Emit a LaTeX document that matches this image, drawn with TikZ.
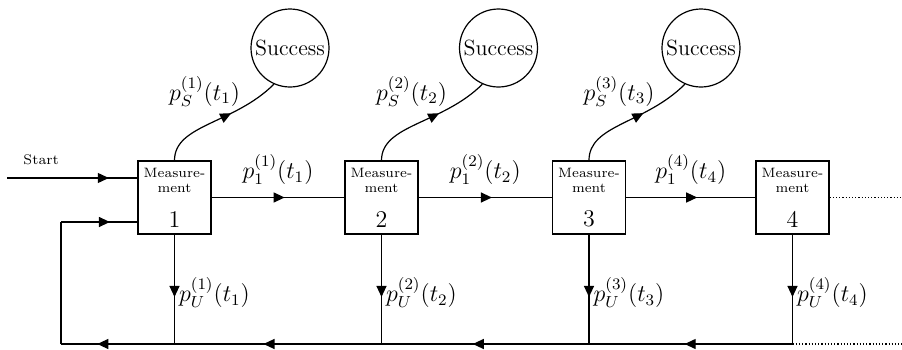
\documentclass[tikz,border=0pt]{standalone}
\usepackage{amsmath}
\usepackage{tikz}
\usetikzlibrary{arrows.meta, positioning, calc, decorations.markings}

\begin{document}
\begin{tikzpicture}[x=0.5pt, y=-0.5pt, line width=0.6pt,
  measbox/.style={draw, minimum width=36.5pt, minimum height=36.5pt, inner sep=0pt},
  succ/.style={draw, circle, minimum size=39pt, inner sep=0pt, font=\fontsize{11}{13}\selectfont},
  boxtxt/.style={inner sep=0pt, align=center, font=\fontsize{6.8}{7.5}\selectfont},
  numtxt/.style={inner sep=0pt, font=\large},
  prob/.style={inner sep=0pt, font=\large},
  midarrow/.style={postaction={decorate}, decoration={markings,
      mark=at position #1 with {\arrow{Triangle[length=5.5pt,width=5pt]}}}},
  midarrow/.default=0.55]
  \useasboundingbox (0,0) rectangle (902,349);

  % measurement stages and their success states
  \foreach \i/\x in {1/174.5, 2/381.5, 3/589, 4/792.5} {
    \node[measbox] (m\i) at (\x,197.5) {};
    \node[boxtxt, below=3.5pt of m\i.north] {Measure-\\ment};
    \node[numtxt, above=3.5pt of m\i.south] {\i};
  }
  \foreach \i/\cx in {1/290, 2/498.5, 3/701} {
    \node[succ] (s\i) at (\cx,48) {Success};
    \draw[midarrow=0.6] (m\i.north) .. controls ($(m\i.north)+(0,-36)$) and ($(s\i.246)+(-40,40)$) .. (s\i.246);
    \node[prob] (ps\i) at ($(m\i.north)+(30,-69)$) {$p_S^{(\i)}(t_\i)$};
  }

  % forward links
  \foreach \a/\b/\k in {1/2/1, 2/3/2, 3/4/4}
    \draw[midarrow] (m\a.east) -- node[prob, above=6pt] {$p_1^{(\k)}(t_\k)$} (m\b.west);

  % return line
  \coordinate (bl) at (61,344);
  \coordinate (rend) at (902,0);
  \foreach \i in {1,...,4} {
    \coordinate (f\i) at (m\i |- bl);
    \draw[midarrow=0.57] (m\i.south) -- node[prob, pos=0.53, right=2pt] {$p_U^{(\i)}(t_\i)$} (f\i);
  }
  \draw[midarrow=0.53] (f4) -- (f3);
  \draw[midarrow=0.56] (f3) -- (f2);
  \draw[midarrow=0.57] (f2) -- (f1);
  \draw[midarrow=0.68] (f1) -- (bl);
  \coordinate (fbin) at ($(m1.west)+(0,24.5)$);
  \coordinate (fbc) at (bl |- fbin);
  \draw (bl) -- (fbc);
  \draw[midarrow=0.64] (fbc) -- (fbin);

  % start
  \coordinate (stin) at ($(m1.west)+(0,-19.5)$);
  \coordinate (st) at ($(stin)+(-130,0)$);
  \draw[midarrow=0.78] (st) -- node[pos=0.26, above=6.5pt, inner sep=0pt, font=\fontsize{7}{8}\selectfont] {Start} (stin);

  % continuation
  \draw[densely dotted] (m4.east) -- (m4.east -| rend);
  \draw[densely dotted] (f4) -- (f4 -| rend);
\end{tikzpicture}
\end{document}
